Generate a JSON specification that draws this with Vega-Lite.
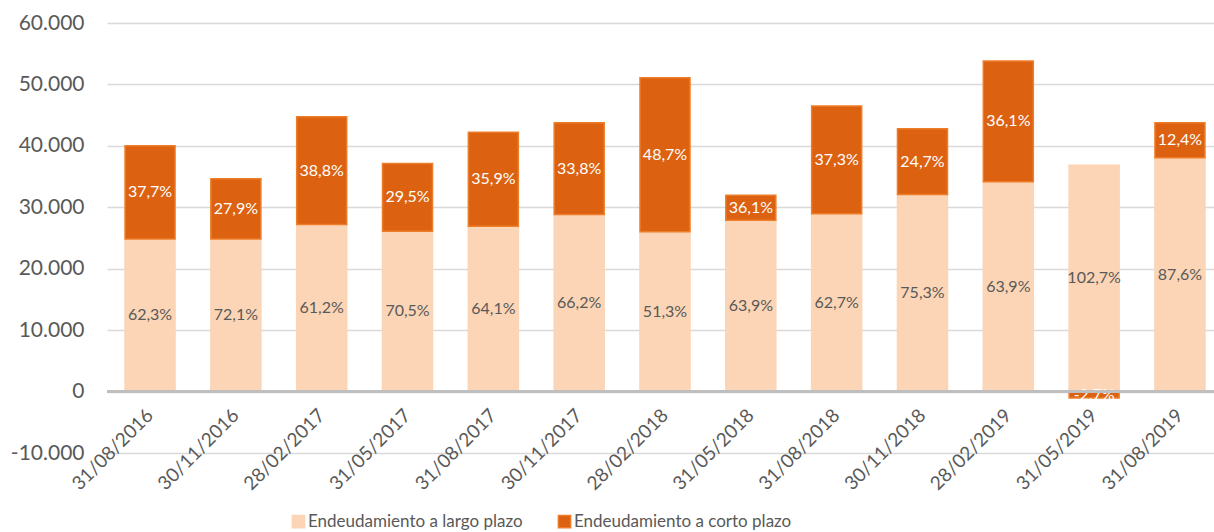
{
  "$schema": "https://vega.github.io/schema/vega-lite/v6.json",
  "autosize": {"type": "none"},
  "width": 1116,
  "height": 430,
  "padding": {"left": 107, "top": 23, "right": 0, "bottom": 79},
  "background": "white",
  "config": {
    "locale": {"number": {"decimal": ",", "thousands": ".", "grouping": [3], "currency": ["", " €"], "minus": "-"}},
    "view": {"stroke": null},
    "font": "Lato"
  },
  "data": {"values": [
    {"fecha": "31/08/2016", "tipo": "Endeudamiento a largo plazo", "valor": 24840, "etiqueta": "62,3%"},
    {"fecha": "31/08/2016", "tipo": "Endeudamiento a corto plazo", "valor": 15160, "etiqueta": "37,7%"},
    {"fecha": "30/11/2016", "tipo": "Endeudamiento a largo plazo", "valor": 24840, "etiqueta": "72,1%"},
    {"fecha": "30/11/2016", "tipo": "Endeudamiento a corto plazo", "valor": 9800, "etiqueta": "27,9%"},
    {"fecha": "28/02/2017", "tipo": "Endeudamiento a largo plazo", "valor": 27200, "etiqueta": "61,2%"},
    {"fecha": "28/02/2017", "tipo": "Endeudamiento a corto plazo", "valor": 17540, "etiqueta": "38,8%"},
    {"fecha": "31/05/2017", "tipo": "Endeudamiento a largo plazo", "valor": 26100, "etiqueta": "70,5%"},
    {"fecha": "31/05/2017", "tipo": "Endeudamiento a corto plazo", "valor": 11030, "etiqueta": "29,5%"},
    {"fecha": "31/08/2017", "tipo": "Endeudamiento a largo plazo", "valor": 26920, "etiqueta": "64,1%"},
    {"fecha": "31/08/2017", "tipo": "Endeudamiento a corto plazo", "valor": 15310, "etiqueta": "35,9%"},
    {"fecha": "30/11/2017", "tipo": "Endeudamiento a largo plazo", "valor": 28830, "etiqueta": "66,2%"},
    {"fecha": "30/11/2017", "tipo": "Endeudamiento a corto plazo", "valor": 14930, "etiqueta": "33,8%"},
    {"fecha": "28/02/2018", "tipo": "Endeudamiento a largo plazo", "valor": 26010, "etiqueta": "51,3%"},
    {"fecha": "28/02/2018", "tipo": "Endeudamiento a corto plazo", "valor": 25080, "etiqueta": "48,7%"},
    {"fecha": "31/05/2018", "tipo": "Endeudamiento a largo plazo", "valor": 27900, "etiqueta": "63,9%"},
    {"fecha": "31/05/2018", "tipo": "Endeudamiento a corto plazo", "valor": 4070, "etiqueta": "36,1%"},
    {"fecha": "31/08/2018", "tipo": "Endeudamiento a largo plazo", "valor": 28940, "etiqueta": "62,7%"},
    {"fecha": "31/08/2018", "tipo": "Endeudamiento a corto plazo", "valor": 17530, "etiqueta": "37,3%"},
    {"fecha": "30/11/2018", "tipo": "Endeudamiento a largo plazo", "valor": 32080, "etiqueta": "75,3%"},
    {"fecha": "30/11/2018", "tipo": "Endeudamiento a corto plazo", "valor": 10700, "etiqueta": "24,7%"},
    {"fecha": "28/02/2019", "tipo": "Endeudamiento a largo plazo", "valor": 34150, "etiqueta": "63,9%"},
    {"fecha": "28/02/2019", "tipo": "Endeudamiento a corto plazo", "valor": 19650, "etiqueta": "36,1%"},
    {"fecha": "31/05/2019", "tipo": "Endeudamiento a largo plazo", "valor": 36860, "etiqueta": "102,7%"},
    {"fecha": "31/05/2019", "tipo": "Endeudamiento a corto plazo", "valor": -1030, "etiqueta": "-2,7%"},
    {"fecha": "31/08/2019", "tipo": "Endeudamiento a largo plazo", "valor": 38060, "etiqueta": "87,6%"},
    {"fecha": "31/08/2019", "tipo": "Endeudamiento a corto plazo", "valor": 5700, "etiqueta": "12,4%"}
  ]},
  "transform": [
    {"stack": "valor", "groupby": ["fecha"], "sort": [{"field": "tipo", "order": "descending"}], "as": ["y0", "y1"]},
    {"calculate": "(datum.y0 + datum.y1) / 2", "as": "ymid"}
  ],
  "layer": [
    {
      "mark": {"type": "bar", "strokeWidth": 1.5},
      "encoding": {
        "x": {
          "field": "fecha", "type": "nominal", "sort": null,
          "scale": {"paddingInner": 0.417, "paddingOuter": 0.21},
          "axis": {"title": null, "labelAngle": -45, "labelFontSize": 19, "labelColor": "#595959", "domain": false, "ticks": false, "offset": -61, "labelPadding": 20, "labelAlign": "right", "labelBaseline": "middle"}
        },
        "y": {
          "field": "y0", "type": "quantitative",
          "scale": {"domain": [-10000, 60000], "nice": false, "zero": false},
          "axis": {"title": null, "values": [-10000, 0, 10000, 20000, 30000, 40000, 50000, 60000], "format": ",d", "labelFontSize": 21, "labelColor": "#595959", "gridColor": "#D9D9D9", "gridWidth": 1.5, "domain": false, "ticks": false, "labelPadding": 23}
        },
        "y2": {"field": "y1"},
        "color": {
          "field": "tipo", "type": "nominal",
          "scale": {"domain": ["Endeudamiento a largo plazo", "Endeudamiento a corto plazo"], "range": ["#FBD5B5", "#DC6211"]},
          "legend": {"title": null, "orient": "none", "legendX": 183, "legendY": 490, "direction": "horizontal", "labelFontSize": 17, "labelLimit": 0, "labelColor": "#595959", "symbolType": "square", "symbolSize": 150, "symbolStrokeWidth": 1.5, "columnPadding": 32, "labelOffset": 1}
        },
        "stroke": {
          "field": "tipo", "type": "nominal",
          "scale": {"domain": ["Endeudamiento a largo plazo", "Endeudamiento a corto plazo"], "range": ["#FBD5B5", "#EE7D2A"]},
          "legend": {"title": null, "orient": "none", "legendX": 183, "legendY": 490, "direction": "horizontal", "labelFontSize": 17, "labelLimit": 0, "labelColor": "#595959", "symbolType": "square", "symbolSize": 150, "symbolStrokeWidth": 1.5, "columnPadding": 32, "labelOffset": 1}
        }
      }
    },
    {
      "mark": {"type": "text", "fontSize": 16, "baseline": "middle", "align": "center"},
      "encoding": {
        "x": {"field": "fecha", "type": "nominal", "sort": null},
        "y": {"field": "ymid", "type": "quantitative"},
        "text": {"field": "etiqueta"},
        "color": {"condition": {"test": "datum.tipo === 'Endeudamiento a corto plazo'", "value": "#FFFFFF"}, "value": "#595959"}
      }
    },
    {
      "mark": {"type": "rule", "color": "#BFBFBF", "strokeWidth": 3},
      "encoding": {"y": {"datum": 0}}
    }
  ]
}
